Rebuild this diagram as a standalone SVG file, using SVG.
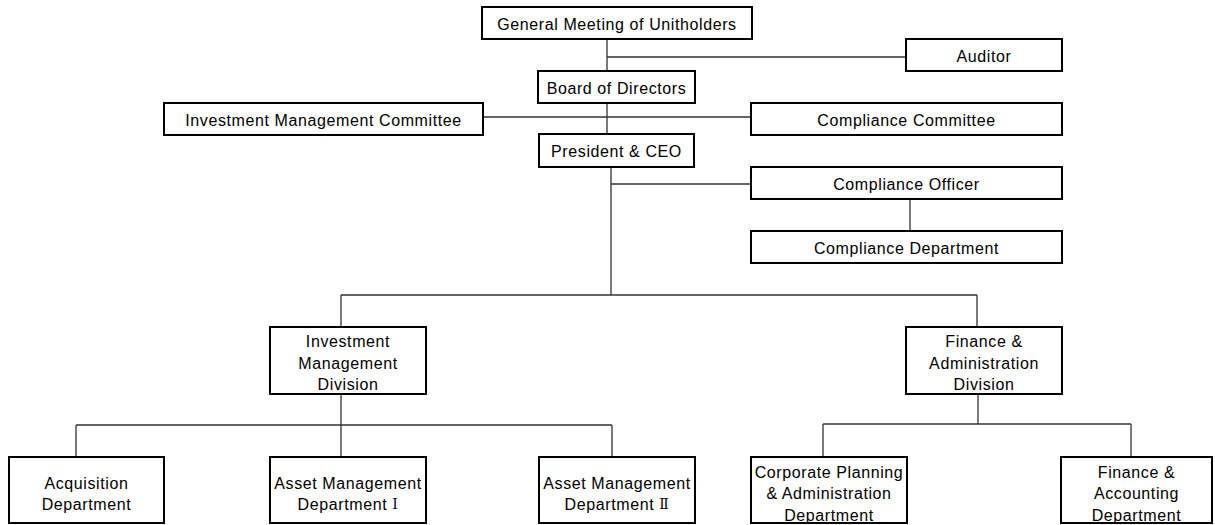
<svg xmlns="http://www.w3.org/2000/svg" width="1215" height="525" viewBox="0 0 1215 525">
<style>
.box{fill:#fff;stroke:#000;stroke-width:2}
.t{font-family:"Liberation Sans","Noto Sans CJK JP",sans-serif;font-size:16px;letter-spacing:0.6px;fill:#000;text-anchor:middle;dominant-baseline:central}
.rn{font-family:"DejaVu Serif","Noto Sans CJK JP",serif;font-size:14px}
.c{stroke:#333;stroke-width:1.3;fill:none}
</style>
<rect width="1215" height="525" fill="#fff"/>
<g id="connectors">
<path class="c" d="M607 39V134M607 57H906M483 117H751M611 167V295M611 184H751M910 199V231M341 295H977M341 295V327M977 295V327M341 394V457M76 425H612M76 425V457M612 425V457M978 394V424M823 424H1131M823 424V457M1131 424V457"/>
</g>
<g id="gm"><rect class="box" x="482" y="7" width="270" height="32"/><text class="t" x="617" y="24">General Meeting of Unitholders</text></g>
<g id="auditor"><rect class="box" x="906" y="39" width="156" height="32"/><text class="t" x="984" y="56">Auditor</text></g>
<g id="board"><rect class="box" x="538" y="71" width="157" height="32"/><text class="t" x="616.5" y="88">Board of Directors</text></g>
<g id="imc"><rect class="box" x="164" y="103" width="319" height="32"/><text class="t" x="323.5" y="120">Investment Management Committee</text></g>
<g id="cc"><rect class="box" x="751" y="103" width="311" height="32"/><text class="t" x="906.5" y="120">Compliance Committee</text></g>
<g id="president"><rect class="box" x="539" y="134" width="155" height="33"/><text class="t" x="616.5" y="151">President &amp; CEO</text></g>
<g id="co"><rect class="box" x="751" y="167" width="311" height="32"/><text class="t" x="906.5" y="184">Compliance Officer</text></g>
<g id="cd"><rect class="box" x="751" y="231" width="311" height="32"/><text class="t" x="906.5" y="248">Compliance Department</text></g>
<g id="imd"><rect class="box" x="270" y="327" width="156" height="67"/><text class="t" x="348" y="341">Investment</text><text class="t" x="348" y="363">Management</text><text class="t" x="348" y="384">Division</text></g>
<g id="fad"><rect class="box" x="906" y="327" width="156" height="67"/><text class="t" x="984" y="341">Finance &amp;</text><text class="t" x="984" y="363">Administration</text><text class="t" x="984" y="384">Division</text></g>
<g id="acq"><rect class="box" x="9" y="457" width="155" height="66"/><text class="t" x="86.5" y="483">Acquisition</text><text class="t" x="86.5" y="504">Department</text></g>
<g id="am1"><rect class="box" x="270" y="457" width="156" height="66"/><text class="t" x="348" y="483">Asset Management</text><text class="t" x="348" y="504">Department <tspan class="rn">Ⅰ</tspan></text></g>
<g id="am2"><rect class="box" x="539" y="457" width="156" height="66"/><text class="t" x="617" y="483">Asset Management</text><text class="t" x="617" y="504">Department <tspan class="rn">Ⅱ</tspan></text></g>
<g id="cpad"><rect class="box" x="751" y="457" width="156" height="66"/><text class="t" x="829" y="472">Corporate Planning</text><text class="t" x="829" y="493">&amp; Administration</text><text class="t" x="829" y="515">Department</text></g>
<g id="fadept"><rect class="box" x="1061" y="457" width="151" height="66"/><text class="t" x="1136.5" y="472">Finance &amp;</text><text class="t" x="1136.5" y="493">Accounting</text><text class="t" x="1136.5" y="515">Department</text></g>
</svg>
